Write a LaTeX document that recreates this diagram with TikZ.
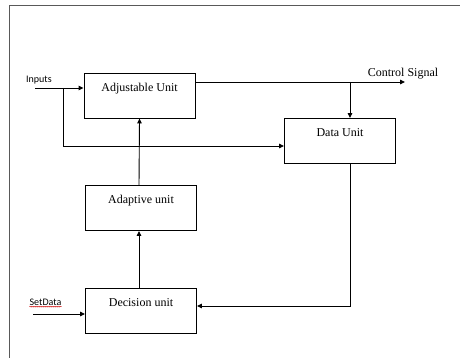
\documentclass[tikz,border=0pt]{standalone}
\usepackage{fontspec}
\setmainfont{Liberation Serif}
\newfontfamily\labelfont{Carlito}
\usetikzlibrary{arrows.meta,decorations.pathmorphing}
\begin{document}
\begin{tikzpicture}[x=1pt,y=-1pt,
  unitbox/.style={draw, line width=0.9pt, minimum width=111pt, minimum height=45pt,
    text height=9pt, text depth=17pt, inner sep=0pt, font=\fontsize{12}{14}\selectfont},
  wire/.style={line width=0.9pt},
  flow/.style={wire, -{Triangle[length=5pt,width=4.5pt]}},
  sidelabel/.style={font=\labelfont\fontsize{10}{12}\selectfont, inner sep=0pt}]
\useasboundingbox (0,0) rectangle (460,358);
% page frame
\draw[gray!70!black, line width=1pt] (9,362) -- (9,6) -- (464,6);

% units
\node[unitbox] (adj)   at (139.5,95.5) {Adjustable Unit};
\node[unitbox] (data)  at (340,141)    {Data Unit};
\node[unitbox] (adapt) at (141,208)    {Adaptive unit};
\node[unitbox] (dec)   at (141,310.5)  {Decision unit};

% labels
\node[sidelabel] (inlbl) at (39,80) {Inputs};
\node[sidelabel] (sdlbl) at (45.5,302) {SetData};
\draw[red!80!black, line width=0.4pt, decorate,
  decoration={snake, amplitude=0.5pt, segment length=2pt}]
  ([yshift=-1.2pt]sdlbl.south west) -- ([yshift=-1.2pt]sdlbl.south east);
\node[font=\fontsize{12}{14}\selectfont, inner sep=0pt] (ctrl) at (403,74) {Control Signal};

% inputs
\coordinate (inStart) at (35,88);
\coordinate (split) at (63,88);
\coordinate (lowIn) at (63,146);
\draw[flow] (inStart) -- (adj.west |- inStart);
\draw[flow] (split) -- (lowIn) -- (data.west |- lowIn);

% control signal output and tap to data unit
\coordinate (outEnd) at (405,82);
\coordinate (tap) at (350,82);
\draw[flow] (adj.east |- outEnd) -- (outEnd);
\draw[flow] (tap) -- (tap |- data.north);

% feedback from data unit to decision unit
\coordinate (fb) at (350,306);
\draw[flow] (data.south -| fb) -- (fb) -- (dec.east |- fb);

% decision -> adaptive -> adjustable
\draw[flow] ([xshift=-2pt]dec.north) -- ([xshift=-2pt]adapt.south);
\draw[flow] ([xshift=-2pt]adapt.north) -- (adj.south);

% set data input
\coordinate (sdStart) at (33,314);
\draw[flow] (sdStart) -- (dec.west |- sdStart);
\end{tikzpicture}
\end{document}
